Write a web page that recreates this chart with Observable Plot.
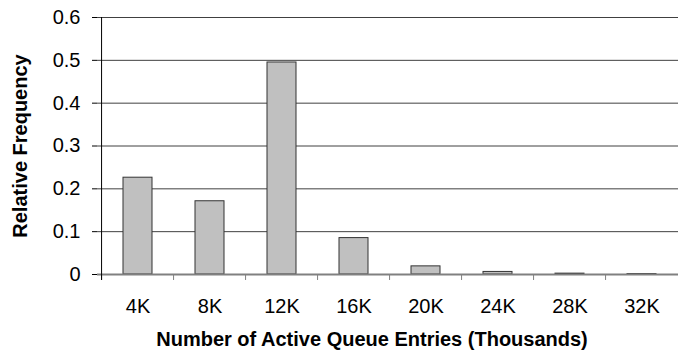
<!DOCTYPE html>
<html>
<head>
<meta charset="utf-8">
<script src="https://cdn.jsdelivr.net/npm/d3@7"></script>
<script src="https://cdn.jsdelivr.net/npm/@observablehq/plot@0.6"></script>
<style>
  html, body { margin: 0; padding: 0; background: #fff; }
  #chart { width: 678px; height: 358px; }
</style>
</head>
<body>
<div id="chart"></div>
<script>
const categories = ["4K", "8K", "12K", "16K", "20K", "24K", "28K", "32K"];
const frequencies = [0.226, 0.171, 0.495, 0.085, 0.019, 0.006, 0.002, 0.001];
const yTicks = [0, 0.1, 0.2, 0.3, 0.4, 0.5, 0.6];
const yTickLabels = ["0", "0.1", "0.2", "0.3", "0.4", "0.5", "0.6"];
const yTitle = "Relative Frequency";
const xTitle = "Number of Active Queue Entries (Thousands)";

const data = categories.map((c, i) => ({category: c, value: frequencies[i]}));

const left = 97.5, right = 680.5;
const step = (right - left) / categories.length;
const font = "Liberation Sans, Arial, Helvetica, sans-serif";

const chart = Plot.plot({
  width: 678,
  height: 358,
  marginTop: 17,
  marginBottom: 84,
  marginLeft: 97,
  marginRight: 0,
  style: {fontFamily: font, fontSize: "20px", color: "#000", background: "#fff", overflow: "visible"},
  x: {domain: categories, range: [left, right], paddingInner: 0.6, paddingOuter: 0.3, align: 0.5},
  y: {domain: [0, 0.6]},
  marks: [
    Plot.ruleY(yTicks, {y: d => d, stroke: "#404040", strokeWidth: 1}),
    Plot.barY(data, {x: "category", y: "value", fill: "#c0c0c0", stroke: "#333", strokeWidth: 1}),
    Plot.ruleY([0], {stroke: "#808080", strokeWidth: 2}),
    Plot.ruleX(categories, {x: d => d, y1: 0, y2: -0.014, dx: -step / 2, stroke: "#808080", strokeWidth: 1}),
    Plot.ruleX([categories[0]], {x: d => d, y1: -0.014, y2: 0.6, dx: -step / 2, stroke: "#000", strokeWidth: 1}),
    Plot.axisY({ticks: yTicks, tickFormat: (d, i) => yTickLabels[i], tickSize: 5, tickPadding: 12, label: null, fontSize: 20, stroke: "#000"}),
    Plot.axisX({tickSize: 0, tickPadding: 24, label: null, fontSize: 20}),
    Plot.text([yTitle], {frameAnchor: "left", textAnchor: "middle", dx: -77, rotate: -90, fontWeight: "bold", fontSize: 20, fill: "#000"}),
    Plot.text([xTitle], {frameAnchor: "bottom", textAnchor: "middle", dx: -16, dy: 71, fontWeight: "bold", fontSize: 20, fill: "#000"})
  ]
});
document.getElementById("chart").appendChild(chart);
</script>
</body>
</html>
